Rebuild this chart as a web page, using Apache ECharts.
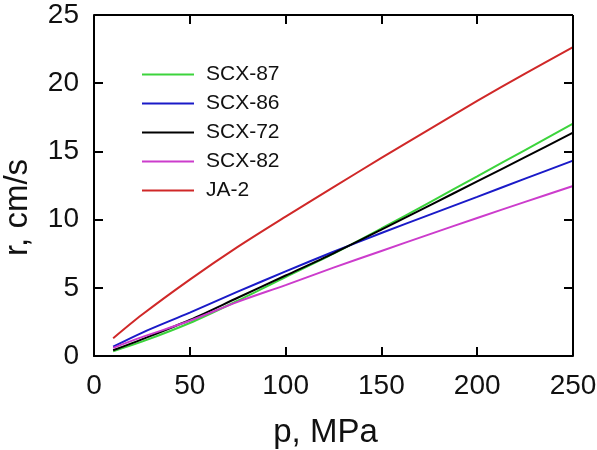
<!DOCTYPE html>
<html>
<head>
<meta charset="utf-8">
<script src="https://cdn.jsdelivr.net/npm/echarts@6/dist/echarts.min.js"></script>
<style>
  html, body { margin: 0; padding: 0; background: #fff; }
  #chart { width: 597px; height: 450px; }
</style>
</head>
<body>
<div id="chart"></div>
<script>
// Burning rate r (cm/s) versus pressure p (MPa) for five propellants
const pressure = [10, 25, 50, 75, 100, 125, 150, 175, 200, 225, 250];
const scx87 = [0.35, 1.05, 2.42, 4.05, 5.78, 7.50, 9.35, 11.25, 13.17, 15.10, 17.03];
const scx86 = [0.68, 1.70, 3.18, 4.72, 6.20, 7.64, 9.02, 10.35, 11.67, 13.00, 14.32];
const scx72 = [0.42, 1.22, 2.64, 4.27, 5.90, 7.53, 9.26, 11.03, 12.80, 14.58, 16.37];
const scx82 = [0.60, 1.38, 2.58, 3.97, 5.20, 6.48, 7.70, 8.92, 10.12, 11.30, 12.46];
const ja2   = [1.30, 3.02, 5.60, 8.00, 10.22, 12.38, 14.52, 16.62, 18.70, 20.70, 22.65];

const xTicks = [0, 50, 100, 150, 200, 250];
const yTicks = [0, 5, 10, 15, 20, 25];

const seriesDefs = [
  { name: 'SCX-87', values: scx87, color: '#3cd43c' },
  { name: 'SCX-86', values: scx86, color: '#1a1ac8' },
  { name: 'SCX-72', values: scx72, color: '#000000' },
  { name: 'SCX-82', values: scx82, color: '#cc3ccc' },
  { name: 'JA-2',   values: ja2,   color: '#d02828' }
];

const font = 'Liberation Sans, Arial, sans-serif';
const W = 597, H = 450;
const gridBox = { left: 94, right: 24, top: 15, bottom: 94 };
const tickLen = 9;

const xMin = xTicks[0], xMax = xTicks[xTicks.length - 1];
const yMin = yTicks[0], yMax = yTicks[yTicks.length - 1];

// tick length expressed in axis units, so the mirrored ticks follow the scales
const xPerPx = (xMax - xMin) / (W - gridBox.left - gridBox.right);
const yPerPx = (yMax - yMin) / (H - gridBox.top - gridBox.bottom);

// top and right edges of the box, with inward ticks, as mark lines
const boxLines = [
  [{ coord: [xMin, yMax] }, { coord: [xMax, yMax] }],
  [{ coord: [xMax, yMin] }, { coord: [xMax, yMax] }]
];
xTicks.slice(1, -1).forEach(x => {
  boxLines.push([{ coord: [x, yMax] }, { coord: [x, yMax - tickLen * yPerPx] }]);
});
yTicks.slice(1, -1).forEach(y => {
  boxLines.push([{ coord: [xMax, y] }, { coord: [xMax - tickLen * xPerPx, y] }]);
});

const curves = seriesDefs.map((s, k) => {
  const line = {
    name: s.name,
    type: 'line',
    smooth: 0.3,
    symbol: 'none',
    lineStyle: { color: s.color, width: 2 },
    itemStyle: { color: s.color },
    data: pressure.map((p, i) => [p, s.values[i]])
  };
  if (k === 0) {
    line.markLine = {
      silent: true,
      symbol: ['none', 'none'],
      animation: false,
      label: { show: false },
      emphasis: { disabled: true },
      lineStyle: { color: '#000', width: 2, type: 'solid' },
      data: boxLines
    };
  }
  return line;
});

const chart = echarts.init(document.getElementById('chart'), null, { renderer: 'canvas' });

chart.setOption({
  animation: false,
  backgroundColor: '#fff',
  grid: Object.assign({ containLabel: false, outerBoundsMode: 'none' }, gridBox),
  legend: {
    orient: 'vertical',
    left: 137,
    top: 59,
    itemWidth: 52,
    itemHeight: 14,
    itemGap: 8,
    icon: 'path://M0,6 L52,6 L52,8 L0,8 Z',
    textStyle: { fontFamily: font, fontSize: 21, color: '#111', lineHeight: 21, padding: [0, 0, 0, 7] },
    data: seriesDefs.map(s => ({ name: s.name, itemStyle: { color: s.color } }))
  },
  xAxis: {
    type: 'value', min: xMin, max: xMax, interval: 50,
    axisLine: { show: true, onZero: false, lineStyle: { color: '#000', width: 2 } },
    axisTick: { show: true, inside: true, length: tickLen, lineStyle: { color: '#000', width: 2 } },
    splitLine: { show: false },
    axisLabel: { fontFamily: font, fontSize: 28, color: '#111', margin: 16 },
    name: 'p, MPa', nameLocation: 'middle', nameGap: 60,
    nameTextStyle: { fontFamily: font, fontSize: 33, color: '#111', padding: [0, 16, 0, 0] }
  },
  yAxis: {
    type: 'value', min: yMin, max: yMax, interval: 5,
    axisLine: { show: true, onZero: false, lineStyle: { color: '#000', width: 2 } },
    axisTick: { show: true, inside: true, length: tickLen, lineStyle: { color: '#000', width: 2 } },
    splitLine: { show: false },
    axisLabel: { fontFamily: font, fontSize: 28, color: '#111', margin: 15 },
    name: 'r, cm/s', nameLocation: 'middle', nameGap: 60,
    nameTextStyle: { fontFamily: font, fontSize: 33, color: '#111', padding: [0, 44, 0, 0] }
  },
  series: curves
});
</script>
</body>
</html>
